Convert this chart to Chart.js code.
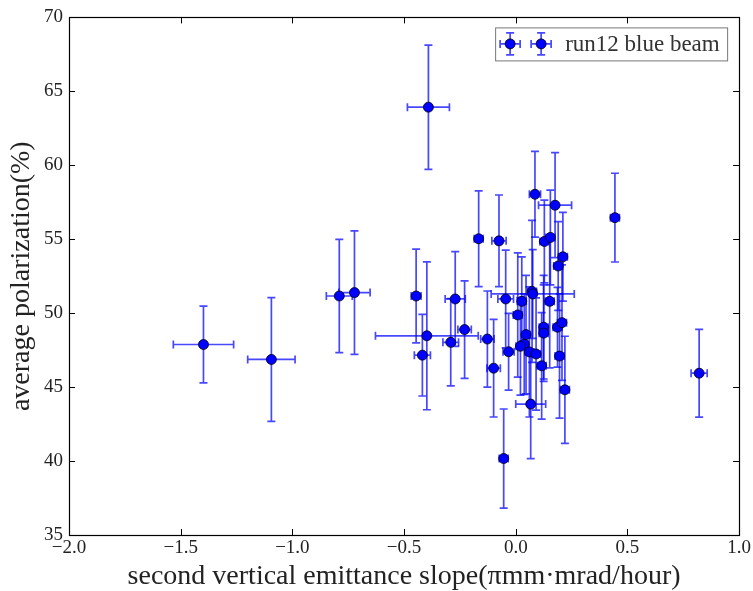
<!DOCTYPE html>
<html>
<head>
<meta charset="utf-8">
<script src="https://cdn.jsdelivr.net/npm/chart.js@4.4.1/dist/chart.umd.min.js"></script>
<style>
  html, body { margin: 0; padding: 0; background: #fff; }
  #wrap { width: 753px; height: 591px; }
</style>
</head>
<body>
<div id="wrap"><canvas id="chart" width="753" height="591"></canvas></div>
<script>
// run12 blue beam: pendiente de emitancia vs polarización media
const slopeX = [-1.398, -1.094, -0.790, -0.722, -0.446, -0.398, -0.418, -0.391, -0.271, -0.229,
  -0.291, -0.127, -0.099, -0.166, -0.075, -0.045, -0.032, -0.054, 0.009, 0.027,
  0.073, 0.076, 0.086, 0.176, 0.128, 0.155, 0.211, 0.190, 0.152, 0.046,
  0.038, 0.021, 0.061, 0.091, 0.125, 0.125, 0.116, 0.187, 0.207, 0.196,
  0.220, 0.067, 0.444, 0.821];
const polY = [47.88, 46.87, 51.16, 51.39, 51.16, 48.47, 47.16, 63.93, 50.96, 48.89,
  48.03, 48.25, 46.28, 55.03, 54.89, 50.96, 47.39, 40.17, 49.88, 50.80,
  51.47, 51.30, 58.04, 57.30, 54.85, 55.12, 53.81, 53.19, 50.80, 48.55,
  47.90, 47.76, 47.38, 47.24, 49.05, 48.65, 46.44, 49.05, 49.36, 47.10,
  44.82, 43.85, 56.46, 45.94];
const slopeErr = [0.135, 0.106, 0.058, 0.070, 0.022, 0.230, 0.036, 0.094, 0.045, 0.030,
  0.035, 0.030, 0.030, 0.020, 0.032, 0.035, 0.025, 0.020, 0.020, 0.020,
  0.020, 0.186, 0.025, 0.074, 0.020, 0.020, 0.020, 0.020, 0.020, 0.020,
  0.020, 0.020, 0.020, 0.020, 0.020, 0.020, 0.020, 0.020, 0.020, 0.020,
  0.020, 0.067, 0.020, 0.036];
const polErr = [2.60, 4.18, 3.83, 4.18, 3.17, 5.00, 2.76, 4.20, 3.20, 3.30,
  2.95, 3.25, 3.30, 3.24, 3.10, 3.30, 2.60, 3.35, 4.20, 3.00,
  4.80, 3.00, 2.90, 3.55, 2.80, 3.20, 3.00, 3.00, 4.50, 4.00,
  3.40, 3.30, 4.40, 3.80, 3.50, 3.26, 3.60, 2.70, 3.90, 4.20,
  3.62, 3.68, 3.00, 2.97];
const xTicks = [-2.0, -1.5, -1.0, -0.5, 0.0, 0.5, 1.0];
const yTicks = [35, 40, 45, 50, 55, 60, 65, 70];
const seriesLabel = 'run12 blue beam';

const serif = "'Liberation Serif', 'DejaVu Serif', serif";
const barColor = 'rgba(0, 0, 255, 0.72)';
const capHalf = 4;
const dotR = 5;

const points = slopeX.map((x, i) => ({ x: x, y: polY[i], xe: slopeErr[i], ye: polErr[i] }));

function fmtMinus(v, digits) {
  return v.toFixed(digits).replace('-', '\u2212');
}

function drawErrorCross(ctx, cx, cy, x0, x1, y0, y1) {
  ctx.beginPath();
  ctx.moveTo(x0, cy); ctx.lineTo(x1, cy);
  ctx.moveTo(x0, cy - capHalf); ctx.lineTo(x0, cy + capHalf);
  ctx.moveTo(x1, cy - capHalf); ctx.lineTo(x1, cy + capHalf);
  ctx.moveTo(cx, y0); ctx.lineTo(cx, y1);
  ctx.moveTo(cx - capHalf, y0); ctx.lineTo(cx + capHalf, y0);
  ctx.moveTo(cx - capHalf, y1); ctx.lineTo(cx + capHalf, y1);
  ctx.stroke();
}

function drawDot(ctx, cx, cy) {
  ctx.beginPath();
  ctx.arc(cx, cy, dotR, 0, Math.PI * 2);
  ctx.fillStyle = '#0000ff';
  ctx.fill();
  ctx.lineWidth = 0.8;
  ctx.strokeStyle = '#000';
  ctx.stroke();
}

// barras de error (antes de los puntos)
const errorBars = {
  id: 'errorBars',
  beforeDatasetsDraw(chart) {
    const { ctx, scales: { x, y } } = chart;
    ctx.save();
    ctx.strokeStyle = barColor;
    ctx.lineWidth = 1.7;
    points.forEach((p) => {
      drawErrorCross(ctx,
        x.getPixelForValue(p.x), y.getPixelForValue(p.y),
        x.getPixelForValue(p.x - p.xe), x.getPixelForValue(p.x + p.xe),
        y.getPixelForValue(p.y + p.ye), y.getPixelForValue(p.y - p.ye));
    });
    ctx.restore();
  }
};

// marco, ticks hacia adentro en los 4 lados, y leyenda
const frameAndLegend = {
  id: 'frameAndLegend',
  afterDraw(chart) {
    const { ctx, chartArea: a, scales: { x, y } } = chart;
    const tl = 6;
    ctx.save();
    ctx.strokeStyle = '#000';
    ctx.lineWidth = 1;
    ctx.beginPath();
    xTicks.forEach((v) => {
      const px = Math.round(x.getPixelForValue(v)) + 0.5;
      ctx.moveTo(px, a.bottom); ctx.lineTo(px, a.bottom - tl);
      ctx.moveTo(px, a.top); ctx.lineTo(px, a.top + tl);
    });
    yTicks.forEach((v) => {
      const py = Math.round(y.getPixelForValue(v)) + 0.5;
      ctx.moveTo(a.left, py); ctx.lineTo(a.left + tl, py);
      ctx.moveTo(a.right, py); ctx.lineTo(a.right - tl, py);
    });
    ctx.stroke();
    ctx.lineWidth = 1.2;
    ctx.strokeRect(Math.round(a.left) + 0.5, Math.round(a.top) + 0.5,
      Math.round(a.right - a.left), Math.round(a.bottom - a.top));

    // leyenda
    const bx = a.right - 244, by = a.top + 10, bw = 232, bh = 33;
    ctx.fillStyle = '#fff';
    ctx.fillRect(bx, by, bw, bh);
    ctx.strokeStyle = '#777';
    ctx.lineWidth = 1;
    ctx.strokeRect(bx + 0.5, by + 0.5, bw, bh);
    const my = by + bh / 2;
    [bx + 15, bx + 46].forEach((mx) => {
      ctx.strokeStyle = barColor;
      ctx.lineWidth = 1.7;
      drawErrorCross(ctx, mx, my, mx - 10, mx + 10, my - 11, my + 11);
      drawDot(ctx, mx, my);
    });
    ctx.fillStyle = '#333';
    ctx.font = '23px ' + serif;
    ctx.textBaseline = 'middle';
    ctx.textAlign = 'left';
    ctx.fillText(seriesLabel, bx + 70, my + 1);
    ctx.restore();
  }
};

new Chart(document.getElementById('chart'), {
  type: 'scatter',
  data: {
    datasets: [{
      label: seriesLabel,
      data: points,
      backgroundColor: '#0000ff',
      borderColor: '#000',
      borderWidth: 0.8,
      pointRadius: dotR,
      pointHoverRadius: dotR
    }]
  },
  options: {
    responsive: false,
    animation: false,
    events: [],
    layout: { padding: { top: 16, right: 13, left: 0, bottom: 0 } },
    plugins: { legend: { display: false }, tooltip: { enabled: false } },
    scales: {
      x: {
        type: 'linear', min: -2, max: 1,
        afterBuildTicks: (s) => { s.ticks = xTicks.map((v) => ({ value: v })); },
        ticks: { color: '#222', padding: 2, font: { family: serif, size: 19 },
          callback: (v) => fmtMinus(v, 1) },
        grid: { display: false, drawTicks: false },
        border: { display: false },
        title: { display: true, text: 'second vertical emittance slope(\u03c0mm\u00b7mrad/hour)',
          color: '#222', font: { family: serif, size: 28, lineHeight: 1.0 }, padding: { top: 0, bottom: 0 } },
        afterFit: (s) => { s.height = 56; }
      },
      y: {
        type: 'linear', min: 35, max: 70,
        afterBuildTicks: (s) => { s.ticks = yTicks.map((v) => ({ value: v })); },
        ticks: { color: '#222', padding: 6, font: { family: serif, size: 19 },
          callback: (v) => String(v) },
        grid: { display: false, drawTicks: false },
        border: { display: false },
        title: { display: true, text: 'average polarization(%)',
          color: '#222', font: { family: serif, size: 28, lineHeight: 1.0 }, padding: { top: 8, bottom: 0 } },
        afterFit: (s) => { s.width = 69; }
      }
    }
  },
  plugins: [errorBars, frameAndLegend]
});
</script>
</body>
</html>
